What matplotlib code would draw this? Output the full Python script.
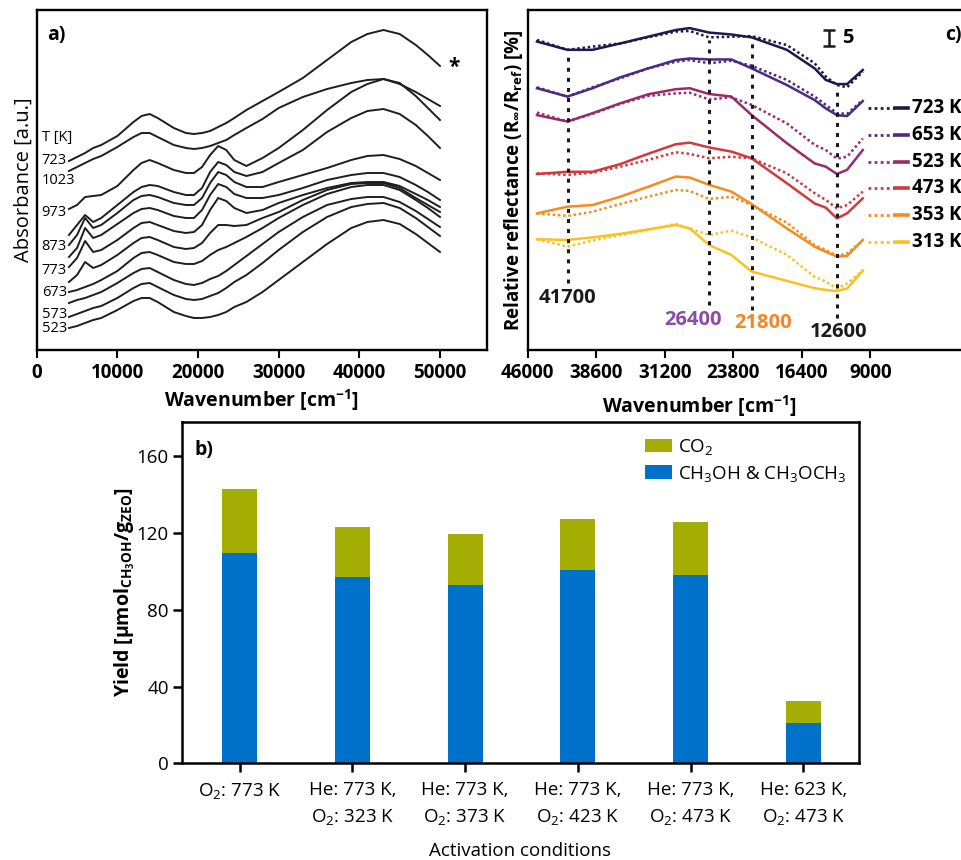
import matplotlib
matplotlib.use('Agg')
import matplotlib.pyplot as plt
from matplotlib.lines import Line2D
import numpy as np

plt.rcParams['font.family'] = ['Open Sans', 'DejaVu Sans']
plt.rcParams['mathtext.fontset'] = 'custom'
plt.rcParams['mathtext.rm'] = 'Open Sans'
plt.rcParams['mathtext.bf'] = 'Open Sans:bold'
plt.rcParams['mathtext.it'] = 'Open Sans:italic'
plt.rcParams['mathtext.default'] = 'regular'

# ---- a) UV-vis absorbance spectra, stacked (top -> bottom) ----
wn_a = [4000, 5000, 6000, 7000, 8000, 10000, 12000, 13000, 14000, 15000, 17000, 18500, 19500,
        20500, 21500, 22500, 23500, 24500, 26000, 28000, 30000, 33000, 36000, 39000, 41000,
        43000, 45000, 47000, 48500, 50000]
abs_curves = [
    [1.89, 1.93, 1.97, 2.02, 2.05, 2.14, 2.28, 2.34, 2.36, 2.32, 2.22, 2.17, 2.16, 2.17, 2.19, 2.23, 2.27, 2.32, 2.40, 2.49, 2.58, 2.72, 2.90, 3.08, 3.16, 3.20, 3.16, 3.05, 2.95, 2.84],
    [1.79, 1.83, 1.87, 1.91, 1.94, 2.03, 2.13, 2.17, 2.17, 2.13, 2.05, 2.02, 2.01, 2.02, 2.04, 2.07, 2.10, 2.15, 2.22, 2.31, 2.42, 2.53, 2.61, 2.67, 2.70, 2.71, 2.66, 2.58, 2.51, 2.44],
    [1.41, 1.45, 1.53, 1.54, 1.55, 1.64, 1.80, 1.87, 1.90, 1.87, 1.80, 1.77, 1.77, 1.83, 1.95, 2.04, 2.00, 1.90, 1.84, 1.92, 2.02, 2.20, 2.40, 2.58, 2.66, 2.71, 2.67, 2.54, 2.42, 2.30],
    [1.15, 1.25, 1.35, 1.28, 1.32, 1.45, 1.58, 1.63, 1.65, 1.64, 1.58, 1.55, 1.55, 1.62, 1.78, 1.88, 1.85, 1.78, 1.74, 1.78, 1.87, 2.00, 2.18, 2.32, 2.39, 2.41, 2.36, 2.25, 2.14, 2.02],
    [1.05, 1.15, 1.32, 1.22, 1.25, 1.37, 1.50, 1.54, 1.55, 1.53, 1.47, 1.45, 1.45, 1.52, 1.67, 1.78, 1.75, 1.68, 1.63, 1.63, 1.68, 1.75, 1.82, 1.90, 1.94, 1.95, 1.91, 1.84, 1.77, 1.70],
    [0.93, 1.02, 1.22, 1.12, 1.15, 1.26, 1.37, 1.41, 1.42, 1.40, 1.34, 1.32, 1.32, 1.40, 1.55, 1.66, 1.63, 1.56, 1.52, 1.52, 1.55, 1.62, 1.70, 1.75, 1.77, 1.77, 1.73, 1.65, 1.58, 1.50],
    [0.83, 0.92, 1.09, 0.98, 1.00, 1.10, 1.22, 1.27, 1.28, 1.25, 1.19, 1.17, 1.18, 1.25, 1.40, 1.52, 1.49, 1.42, 1.37, 1.40, 1.47, 1.55, 1.62, 1.67, 1.68, 1.68, 1.64, 1.56, 1.50, 1.43],
    [0.68, 0.75, 0.88, 0.82, 0.85, 0.95, 1.07, 1.12, 1.13, 1.10, 1.03, 1.01, 1.02, 1.07, 1.17, 1.25, 1.25, 1.24, 1.25, 1.32, 1.38, 1.50, 1.60, 1.66, 1.67, 1.67, 1.62, 1.52, 1.45, 1.38],
    [0.58, 0.60, 0.63, 0.66, 0.70, 0.79, 0.92, 0.97, 0.98, 0.95, 0.88, 0.86, 0.86, 0.89, 0.95, 1.00, 1.03, 1.07, 1.13, 1.22, 1.32, 1.45, 1.56, 1.63, 1.65, 1.65, 1.60, 1.50, 1.42, 1.33],
    [0.47, 0.50, 0.52, 0.55, 0.58, 0.67, 0.77, 0.81, 0.82, 0.78, 0.70, 0.66, 0.65, 0.67, 0.71, 0.74, 0.79, 0.85, 0.94, 1.06, 1.18, 1.33, 1.45, 1.51, 1.53, 1.53, 1.48, 1.39, 1.31, 1.23],
    [0.33, 0.36, 0.39, 0.42, 0.44, 0.52, 0.62, 0.66, 0.67, 0.63, 0.55, 0.51, 0.50, 0.51, 0.54, 0.57, 0.62, 0.68, 0.75, 0.87, 1.00, 1.18, 1.33, 1.43, 1.46, 1.47, 1.42, 1.32, 1.23, 1.14],
    [0.22, 0.24, 0.27, 0.30, 0.32, 0.40, 0.49, 0.52, 0.52, 0.48, 0.38, 0.34, 0.32, 0.32, 0.33, 0.35, 0.38, 0.43, 0.48, 0.58, 0.70, 0.88, 1.06, 1.22, 1.28, 1.30, 1.26, 1.16, 1.07, 0.98],
]
temp_labels_a = ['T [K]', '723', '1023', '973', '873', '773', '673', '573', '523']
temp_label_y = [2.13, 1.89, 1.69, 1.37, 1.04, 0.80, 0.58, 0.36, 0.21]

# ---- c) relative reflectance, solid and dotted per temperature ----
wn_c = [45000, 41700, 39000, 36000, 33000, 30000, 28500, 26400, 24000, 21800, 18000, 15000, 13800, 12600, 11500, 9800]
temps_c = [723, 653, 523, 473, 353, 313]
colors_c = ['#1c1a4a', '#4b2a82', '#982a6e', '#d13a3c', '#f68b1f', '#f9c21f']
refl_solid = [
    [96.4, 93.8, 93.8, 95.8, 97.9, 100.0, 100.6, 99.2, 98.6, 97.7, 93.8, 88.0, 84.4, 83.1, 83.1, 87.5],
    [81.8, 79.2, 81.8, 85.2, 88.0, 90.6, 91.1, 90.8, 90.8, 88.0, 82.8, 78.1, 75.5, 73.4, 73.1, 77.8],
    [73.4, 71.4, 74.0, 77.1, 79.9, 81.5, 81.8, 80.0, 79.2, 73.4, 64.6, 58.3, 57.3, 55.0, 56.3, 62.5],
    [55.0, 55.7, 55.7, 58.1, 61.3, 64.3, 64.8, 63.3, 62.0, 59.9, 52.1, 45.8, 44.5, 41.1, 42.7, 47.4],
    [42.7, 44.8, 45.3, 47.9, 51.0, 54.2, 53.9, 51.6, 49.5, 45.6, 38.0, 32.3, 30.7, 29.2, 29.4, 34.4],
    [34.6, 34.4, 35.2, 36.3, 37.7, 39.1, 38.0, 32.8, 29.7, 24.5, 21.6, 19.3, 18.8, 18.4, 19.2, 24.8],
]
refl_dotted = [
    [96.9, 93.8, 94.8, 95.8, 97.7, 99.5, 99.7, 97.7, 97.9, 98.1, 95.3, 89.6, 85.5, 82.8, 82.1, 87.0],
    [82.1, 79.2, 82.1, 84.9, 88.0, 90.1, 90.6, 89.6, 90.4, 88.8, 84.4, 79.2, 76.6, 74.0, 73.8, 78.1],
    [74.2, 71.4, 73.8, 76.9, 79.4, 80.2, 80.4, 78.3, 79.0, 76.6, 70.8, 64.1, 62.5, 59.8, 60.4, 66.1],
    [55.2, 54.7, 55.4, 57.3, 59.4, 61.8, 61.3, 59.9, 60.4, 59.9, 55.2, 49.0, 46.9, 44.3, 45.3, 49.5],
    [42.7, 41.9, 43.2, 45.6, 47.9, 50.0, 49.7, 47.2, 47.9, 45.3, 39.8, 32.8, 31.3, 29.4, 30.2, 34.2],
    [34.6, 32.3, 34.2, 35.9, 37.5, 39.4, 38.0, 35.9, 37.3, 35.2, 29.7, 22.9, 21.4, 19.2, 20.8, 24.8],
]
bands = [41700, 26400, 21800, 12600]
band_top = [92.0, 96.9, 97.4, 81.8]
band_bottom = [21.0, 14.0, 12.5, 10.0]
band_label_x = [41700, 28100, 20550, 12450]
band_label_y = [16.2, 9.4, 8.4, 5.6]
band_colors = ['#1a1a1a', '#8e4aa8', '#f4862a', '#1a1a1a']

# ---- b) yields ----
conditions = ['O$_2$: 773 K', 'He: 773 K,\nO$_2$: 323 K', 'He: 773 K,\nO$_2$: 373 K',
              'He: 773 K,\nO$_2$: 423 K', 'He: 773 K,\nO$_2$: 473 K', 'He: 623 K,\nO$_2$: 473 K']
meoh = [109.6, 96.9, 92.9, 100.5, 98.3, 21.2]
co2 = [33.4, 26.0, 26.7, 26.8, 27.4, 11.1]

W, H = 962, 860
fig = plt.figure(figsize=(W / 100, H / 100), dpi=100)


def box(l, t, r, b):
    return [l / W, 1 - b / H, (r - l) / W, (b - t) / H]


# panel a
ax_a = fig.add_axes(box(36.7, 10, 487, 350))
for y in abs_curves:
    ax_a.plot(wn_a, y, color='#1e1e1e', lw=1.4, solid_joinstyle='round')
ax_a.set_xlim(0, 55830)
ax_a.set_ylim(0, 3.4)
ax_a.set_xticks([0, 10000, 20000, 30000, 40000, 50000])
ax_a.set_yticks([])
ax_a.tick_params(axis='x', direction='out', length=6, width=1.5, labelsize=13.5, pad=3)
for lab in ax_a.get_xticklabels():
    lab.set_fontweight('bold')
ax_a.set_xlabel('Wavenumber [cm$^{\\mathbf{-1}}$]', fontsize=14, fontweight='bold', labelpad=3)
ax_a.set_ylabel('Absorbance [a.u.]', fontsize=14.5, labelpad=2)
for s in ax_a.spines.values():
    s.set_linewidth(1.7)
for lab, y in zip(temp_labels_a, temp_label_y):
    ax_a.text(620, y, lab, fontsize=10.5, va='center', ha='left')
ax_a.text(1240, 3.15, 'a)', fontsize=14, fontweight='bold', va='center')
ax_a.text(51000, 2.83, '*', fontsize=15, fontweight='bold', va='center')

# panel c
ax_c = fig.add_axes(box(527.7, 10, 975, 350))
px_per_wn = 68.5 / 7400
ax_c.set_xlim(46000, 46000 - (975 - 527.7) / px_per_wn)
ax_c.set_ylim(0, 106.25)
for s_y, d_y, c in zip(refl_solid, refl_dotted, colors_c):
    ax_c.plot(wn_c, d_y, color=c, lw=1.8, ls=(0, (1, 1.1)))
    ax_c.plot(wn_c, s_y, color=c, lw=1.8, solid_joinstyle='round')
for bx, top, bot in zip(bands, band_top, band_bottom):
    ax_c.plot([bx, bx], [bot, top], color='#1a1a1a', lw=2.2, ls=(0, (1.3, 2.0)))
for lx, ly, bx, c in zip(band_label_x, band_label_y, bands, band_colors):
    ax_c.text(lx, ly, str(bx), color=c, fontsize=14.5, fontweight='bold', ha='center', va='center')
ax_c.errorbar([13450], [97.5], yerr=[2.5], color='#1a1a1a', lw=1.8, capsize=4, capthick=1.8)
ax_c.text(12050, 97.5, '5', fontsize=14.5, fontweight='bold', va='center')
ax_c.set_xticks([46000, 38600, 31200, 23800, 16400, 9000])
ax_c.set_yticks([])
ax_c.tick_params(axis='x', direction='out', length=6, width=1.5, labelsize=13.5, pad=3)
for lab in ax_c.get_xticklabels():
    lab.set_fontweight('bold')
ax_c.set_xlabel('Wavenumber [cm$^{\\mathbf{-1}}$]', fontsize=14, fontweight='bold')
ax_c.xaxis.set_label_coords(0.385, -0.128)
ax_c.set_ylabel('Relative reflectance (R$_{\\mathbf{\\infty}}$/R$_{\\mathbf{ref}}$) [%]',
                fontsize=13.5, fontweight='bold', labelpad=2)
for s in ax_c.spines.values():
    s.set_linewidth(1.7)

# legend of panel c (dotted + solid sample)
leg_y = [108, 135, 162, 188, 215, 242]
for t, c, y in zip(temps_c, colors_c, leg_y):
    fig.add_artist(Line2D([868 / W, 894 / W], [1 - y / H] * 2, color=c, lw=2.0, ls=(0, (1, 1.2))))
    fig.add_artist(Line2D([895 / W, 908 / W], [1 - y / H] * 2, color=c, lw=2.6))
    fig.text(912 / W, 1 - y / H, f'{t} K', fontsize=13.5, fontweight='bold', va='center')
fig.text(945 / W, 1 - 35 / H, 'c)', fontsize=14, fontweight='bold', va='center')

# panel b
ax_b = fig.add_axes(box(182, 421.7, 858.6, 763.3))
x = np.arange(len(conditions))
b1 = ax_b.bar(x, meoh, width=0.31, color='#0071c9', label='CH$_3$OH & CH$_3$OCH$_3$')
b2 = ax_b.bar(x, co2, width=0.31, bottom=meoh, color='#a4ad03', label='CO$_2$')
ax_b.set_xlim(-0.51, 5.49)
ax_b.set_ylim(0, 178)
ax_b.set_yticks([0, 40, 80, 120, 160])
ax_b.set_xticks(x)
ax_b.set_xticklabels(conditions, fontsize=13.5, linespacing=1.55)
ax_b.tick_params(axis='y', direction='out', length=6.5, width=1.8, labelsize=13.5, pad=3)
ax_b.tick_params(axis='x', direction='out', length=6.5, width=1.8, pad=6)
for s in ax_b.spines.values():
    s.set_linewidth(1.8)
ax_b.set_ylabel('Yield [\u00b5mol$_{\\mathbf{CH_3OH}}$/g$_{\\mathbf{ZEO}}$]', fontsize=14,
                fontweight='bold', labelpad=0)
ax_b.set_xlabel('Activation conditions', fontsize=13.5, labelpad=11)
ax_b.text(0.018, 0.917, 'b)', transform=ax_b.transAxes, fontsize=14, fontweight='bold', va='center')
ax_b.legend([b2, b1], ['CO$_2$', 'CH$_3$OH & CH$_3$OCH$_3$'], loc='upper left',
            bbox_to_anchor=(0.684, 0.955), frameon=False, fontsize=13.5, borderpad=0,
            borderaxespad=0, handlelength=1.45, handleheight=0.75, handletextpad=0.3,
            labelspacing=0.35)

fig.savefig('out.png', dpi=100)
